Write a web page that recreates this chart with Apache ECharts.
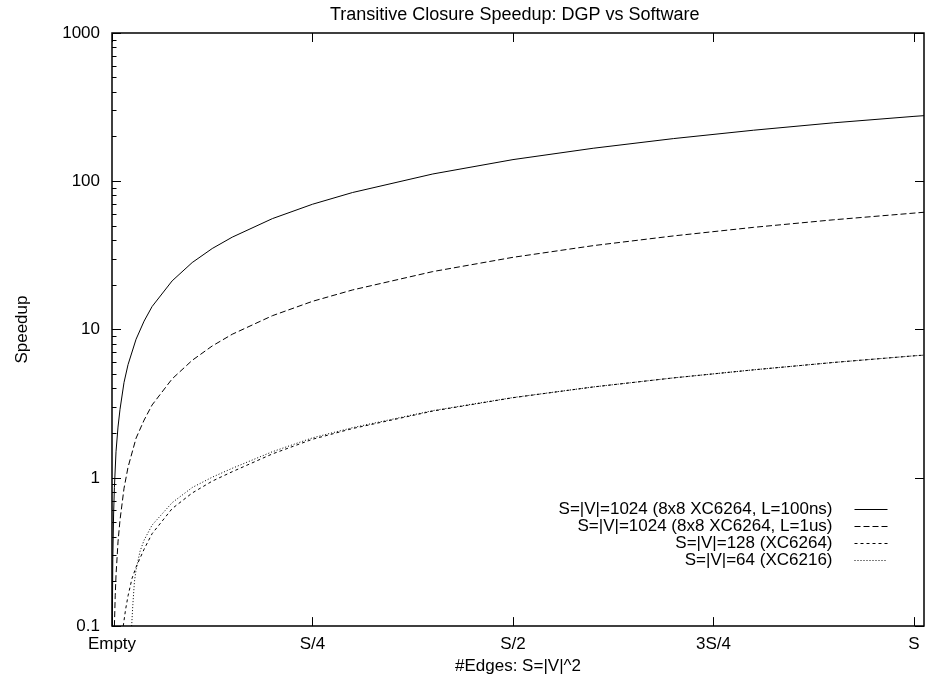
<!DOCTYPE html>
<html>
<head>
<meta charset="utf-8">
<script src="https://cdn.jsdelivr.net/npm/echarts@6/dist/echarts.min.js"></script>
<style>
  html, body { margin: 0; padding: 0; background: #fff; }
  #chart { width: 925px; height: 680px; }
</style>
</head>
<body>
<div id="chart"></div>
<script>
// x: fraction of S edges, y: speedup
var names = [
    'S=|V|=1024 (8x8 XC6264, L=100ns)',
    'S=|V|=1024 (8x8 XC6264, L=1us)',
    'S=|V|=128 (XC6264)',
    'S=|V|=64 (XC6216)'
];
var xTickValues = [0, 0.25, 0.5, 0.75, 1];
var xTickLabels = ['Empty', 'S/4', 'S/2', '3S/4', 'S'];

var s1_x = [0.0004, 0.001, 0.002, 0.003, 0.005, 0.0075, 0.01, 0.015, 0.02, 0.03, 0.04, 0.05, 0.075, 0.1, 0.125, 0.15, 0.2, 0.25, 0.3, 0.4, 0.5, 0.6, 0.7, 0.8, 0.9, 1.0, 1.0125];
var s1_y = [0.1, 0.28, 0.57, 0.86, 1.5, 2.2, 2.9, 4.4, 5.8, 8.6, 11.4, 14.3, 21.3, 28.3, 35.2, 42, 56, 70, 84, 112, 140, 167, 194, 221, 248, 274, 277];

var s2_x = [0.003, 0.004, 0.005, 0.0075, 0.01, 0.015, 0.02, 0.03, 0.04, 0.05, 0.075, 0.1, 0.125, 0.15, 0.2, 0.25, 0.3, 0.4, 0.5, 0.6, 0.7, 0.8, 0.9, 1.0, 1.0125];
var s2_y = [0.1, 0.16, 0.22, 0.37, 0.52, 0.85, 1.18, 1.85, 2.45, 3.1, 4.65, 6.2, 7.75, 9.3, 12.4, 15.5, 18.5, 24.6, 30.7, 36.8, 42.8, 48.9, 55, 61, 61.8];

var s3_x = [0.014, 0.017, 0.02, 0.025, 0.03, 0.04, 0.05, 0.075, 0.1, 0.125, 0.15, 0.2, 0.25, 0.3, 0.4, 0.5, 0.6, 0.7, 0.8, 0.9, 1.0, 1.0125];
var s3_y = [0.1, 0.13, 0.16, 0.21, 0.25, 0.33, 0.42, 0.62, 0.79, 0.95, 1.1, 1.45, 1.82, 2.15, 2.82, 3.47, 4.1, 4.72, 5.35, 6.0, 6.65, 6.72];

var s4_x = [0.0245, 0.026, 0.028, 0.03, 0.035, 0.04, 0.05, 0.075, 0.1, 0.125, 0.15, 0.2, 0.25, 0.3, 0.4, 0.5, 0.6, 0.7, 0.8, 0.9, 1.0, 1.0125];
var s4_y = [0.1, 0.14, 0.2, 0.24, 0.32, 0.38, 0.48, 0.68, 0.86, 1.01, 1.16, 1.5, 1.86, 2.18, 2.84, 3.48, 4.1, 4.72, 5.35, 6.0, 6.65, 6.72];

// minor tick marks of the log axis (2..9 in each decade)
var yMinor = [0.2, 0.3, 0.4, 0.5, 0.6, 0.7, 0.8, 0.9, 2, 3, 4, 5, 6, 7, 8, 9, 20, 30, 40, 50, 60, 70, 80, 90, 200, 300, 400, 500, 600, 700, 800, 900];

var FONT = 'Liberation Sans, Arial, sans-serif';

function zip(xs, ys) {
    var out = [];
    for (var i = 0; i < xs.length; i++) {
        out.push([xs[i], ys[i]]);
    }
    return out;
}

function line_series(name, xs, ys, dash) {
    return {
        name: name,
        type: 'line',
        data: zip(xs, ys),
        showSymbol: false,
        symbol: 'none',
        clip: true,
        silent: true,
        xAxisIndex: 0,
        yAxisIndex: 0,
        lineStyle: { color: '#000', width: 1, type: dash },
        itemStyle: { color: '#000' }
    };
}

function legend_row(name, top) {
    return {
        data: [name],
        orient: 'vertical',
        align: 'right',
        right: 37,
        top: top,
        padding: 0,
        itemWidth: 33,
        itemHeight: 8,
        selectedMode: false,
        itemStyle: { opacity: 0 },
        lineStyle: { width: 1 },
        textStyle: {
            fontFamily: FONT, fontSize: 17, color: '#000',
            lineHeight: 17, padding: [0, 17, 0, 0]
        }
    };
}

var chart = echarts.init(document.getElementById('chart'));

chart.setOption({
    backgroundColor: '#fff',
    animation: false,
    title: {
        text: 'Transitive Closure Speedup: DGP vs Software',
        left: 330,
        top: 6,
        padding: 0,
        textStyle: { fontFamily: FONT, fontSize: 18, fontWeight: 'normal', color: '#000' }
    },
    legend: [
        legend_row(names[0], 501),
        legend_row(names[1], 518),
        legend_row(names[2], 535),
        legend_row(names[3], 552)
    ],
    grid: {
        left: 112, right: 1, top: 33, bottom: 50,
        show: true, borderColor: '#000', borderWidth: 1.5,
        containLabel: false
    },
    xAxis: [{
        type: 'value',
        position: 'bottom',
        min: 0, max: 1.0125, interval: 0.25,
        name: '#Edges: S=|V|^2',
        nameLocation: 'middle',
        nameGap: 15,
        nameTextStyle: { fontFamily: FONT, fontSize: 17, color: '#000' },
        axisLine: { show: false, onZero: false },
        splitLine: { show: false },
        axisTick: { show: true, inside: true, length: 9, customValues: xTickValues, lineStyle: { color: '#000', width: 1 } },
        axisLabel: {
            show: true, margin: 10, customValues: xTickValues,
            fontFamily: FONT, fontSize: 17, color: '#000',
            formatter: function (v) {
                for (var i = 0; i < xTickValues.length; i++) {
                    if (Math.abs(v - xTickValues[i]) < 1e-6) return xTickLabels[i];
                }
                return '';
            }
        }
    }, {
        type: 'value',
        position: 'top',
        min: 0, max: 1.0125, interval: 0.25,
        axisLine: { show: false, onZero: false },
        splitLine: { show: false },
        axisTick: { show: true, inside: true, length: 9, customValues: xTickValues, lineStyle: { color: '#000', width: 1 } },
        axisLabel: { show: false }
    }],
    yAxis: [{
        type: 'log',
        logBase: 10,
        position: 'left',
        min: 0.1, max: 1000,
        name: 'Speedup',
        nameLocation: 'middle',
        nameGap: 81,
        nameTextStyle: { fontFamily: FONT, fontSize: 17, color: '#000' },
        axisLine: { show: false, onZero: false },
        splitLine: { show: false },
        axisTick: { show: true, inside: true, length: 9, lineStyle: { color: '#000', width: 1 } },
        axisLabel: {
            show: true, margin: 12, fontFamily: FONT, fontSize: 17, color: '#000',
            formatter: function (v) { return String(v); }
        }
    }, {
        // linear axis in log10 units, only used to place minor ticks
        type: 'value',
        position: 'left',
        min: -1, max: 3,
        axisLine: { show: false, onZero: false },
        splitLine: { show: false },
        axisTick: {
            show: true, inside: true, length: 4.5,
            customValues: yMinor.map(function (v) { return Math.log10(v); }),
            lineStyle: { color: '#000', width: 1 }
        },
        axisLabel: { show: false }
    }, {
        type: 'log',
        logBase: 10,
        position: 'right',
        min: 0.1, max: 1000,
        axisLine: { show: false, onZero: false },
        splitLine: { show: false },
        axisTick: { show: true, inside: true, length: 9, lineStyle: { color: '#000', width: 1 } },
        axisLabel: { show: false }
    }],
    series: [
        line_series(names[0], s1_x, s1_y, 'solid'),
        line_series(names[1], s2_x, s2_y, [6, 3]),
        line_series(names[2], s3_x, s3_y, [3, 3]),
        line_series(names[3], s4_x, s4_y, [1, 2])
    ]
});
</script>
</body>
</html>
